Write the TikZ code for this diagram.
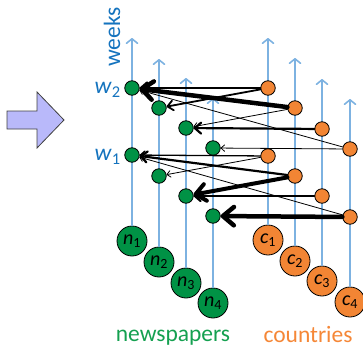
\documentclass[tikz,border=0pt]{standalone}
\usepackage{fontspec}
\setmainfont{Carlito}
\usetikzlibrary{arrows.meta}
\definecolor{axisblue}{RGB}{125,178,225}
\definecolor{labblue}{RGB}{20,115,190}
\definecolor{npgreen}{RGB}{0,146,69}
\definecolor{labgreen}{RGB}{20,160,80}
\definecolor{corange}{RGB}{242,133,52}
\definecolor{labor}{RGB}{245,135,55}
\definecolor{arrowfill}{RGB}{185,185,250}
\begin{document}
\begin{tikzpicture}[x=1pt,y=-1pt,
  axis/.style={draw=axisblue,line width=1.6pt,-{Straight Barb[length=4.5pt,width=11pt,round]}},
  small/.style={circle,draw=black,line width=0.8pt,minimum size=14.5pt,inner sep=0pt},
  big/.style={circle,draw=black,line width=0.8pt,minimum size=30pt,inner sep=0pt,font=\fontsize{20}{20}\selectfont},
  gn/.style={fill=npgreen},
  on/.style={fill=corange},
  edge/.style={draw=black,-{Straight Barb[length=2pt 2.0,width=4pt 3.2,round]},line cap=round},
  lab/.style={font=\fontsize{23.5}{23.5}\selectfont}
]
\useasboundingbox (0,0) rectangle (363,348);
% big arrow
\draw[fill=arrowfill,draw=black!75,line width=0.8pt] (7,111) -- (37,111) -- (37,92) -- (64,120) -- (37,148) -- (37,129) -- (7,129) -- cycle;
% coordinates
\coordinate (tn1) at (132,38); \coordinate (tn2) at (159,59); \coordinate (tn3) at (186,78); \coordinate (tn4) at (213,98);
\coordinate (tc1) at (268,38); \coordinate (tc2) at (295,58); \coordinate (tc3) at (322,79); \coordinate (tc4) at (350,99);
% big nodes
\node[big,gn] (N1) at (132,241) {\textit{n}\textsubscript{1}};
\node[big,gn] (N2) at (159,262) {\textit{n}\textsubscript{2}};
\node[big,gn] (N3) at (186,283) {\textit{n}\textsubscript{3}};
\node[big,gn] (N4) at (213,303) {\textit{n}\textsubscript{4}};
\node[big,on] (C1) at (268,240) {\textit{c}\textsubscript{1}};
\node[big,on] (C2) at (295,261) {\textit{c}\textsubscript{2}};
\node[big,on] (C3) at (322,281) {\textit{c}\textsubscript{3}};
\node[big,on] (C4) at (350,302) {\textit{c}\textsubscript{4}};
% axes
\draw[axis] (N1) -- (tn1);
\draw[axis] (N2) -- (tn2);
\draw[axis] (N3) -- (tn3);
\draw[axis] (N4) -- (tn4);
\draw[axis] (C1) -- (tc1);
\draw[axis] (C2) -- (tc2);
\draw[axis] (C3) -- (tc3);
\draw[axis] (C4) -- (tc4);
% small nodes week 2
\node[small,gn] (a1) at (132,88) {};
\node[small,gn] (a2) at (159,108) {};
\node[small,gn] (a3) at (186,128) {};
\node[small,gn] (a4) at (213,148) {};
\node[small,on] (b1) at (268,88) {};
\node[small,on] (b2) at (295,108) {};
\node[small,on] (b3) at (322,129) {};
\node[small,on] (b4) at (350,149) {};
% small nodes week 1
\node[small,gn] (d1) at (132,155) {};
\node[small,gn] (d2) at (159,176) {};
\node[small,gn] (d3) at (186,196) {};
\node[small,gn] (d4) at (213,216) {};
\node[small,on] (e1) at (268,156) {};
\node[small,on] (e2) at (295,176) {};
\node[small,on] (e3) at (322,196) {};
\node[small,on] (e4) at (350,217) {};
% edges week 2
\draw[edge,line width=0.8pt] (b4) -- (a1);
\draw[edge,line width=0.8pt] (b2) -- (a3);
\draw[edge,line width=0.8pt] (b4) -- (a4);
\draw[edge,line width=1.8pt] (b1) -- (a2);
\draw[edge,line width=2.2pt] (b1) -- (a1);
\draw[edge,line width=2.2pt] (b3) -- (a3);
\draw[edge,line width=4.5pt] (b2) -- (a1);
% edges week 1
\draw[edge,line width=0.8pt] (e4) -- (d1);
\draw[edge,line width=0.8pt] (e1) -- (d2);
\draw[edge,line width=1.3pt] (e1) -- (d1);
\draw[edge,line width=2.2pt] (e2) -- (d1);
\draw[edge,line width=2pt] (e3) -- (d3);
\draw[edge,line width=4pt] (e2) -- (d3);
\draw[edge,line width=4.5pt] (e4) -- (d4);
% labels
\node[lab,text=labblue,rotate=90,anchor=base] (weeks) at (120,37) {weeks};
\node[lab,text=labblue,anchor=east,inner sep=0pt] (w2) at (121,90) {\textit{w}\textsubscript{2}};
\node[lab,text=labblue,anchor=east,inner sep=0pt] (w1) at (121,157) {\textit{w}\textsubscript{1}};
\node[lab,text=labgreen,anchor=base] (np) at (173,341) {newspapers};
\node[lab,text=labor,anchor=base] (ct) at (308,342) {countries};
\end{tikzpicture}
\end{document}
